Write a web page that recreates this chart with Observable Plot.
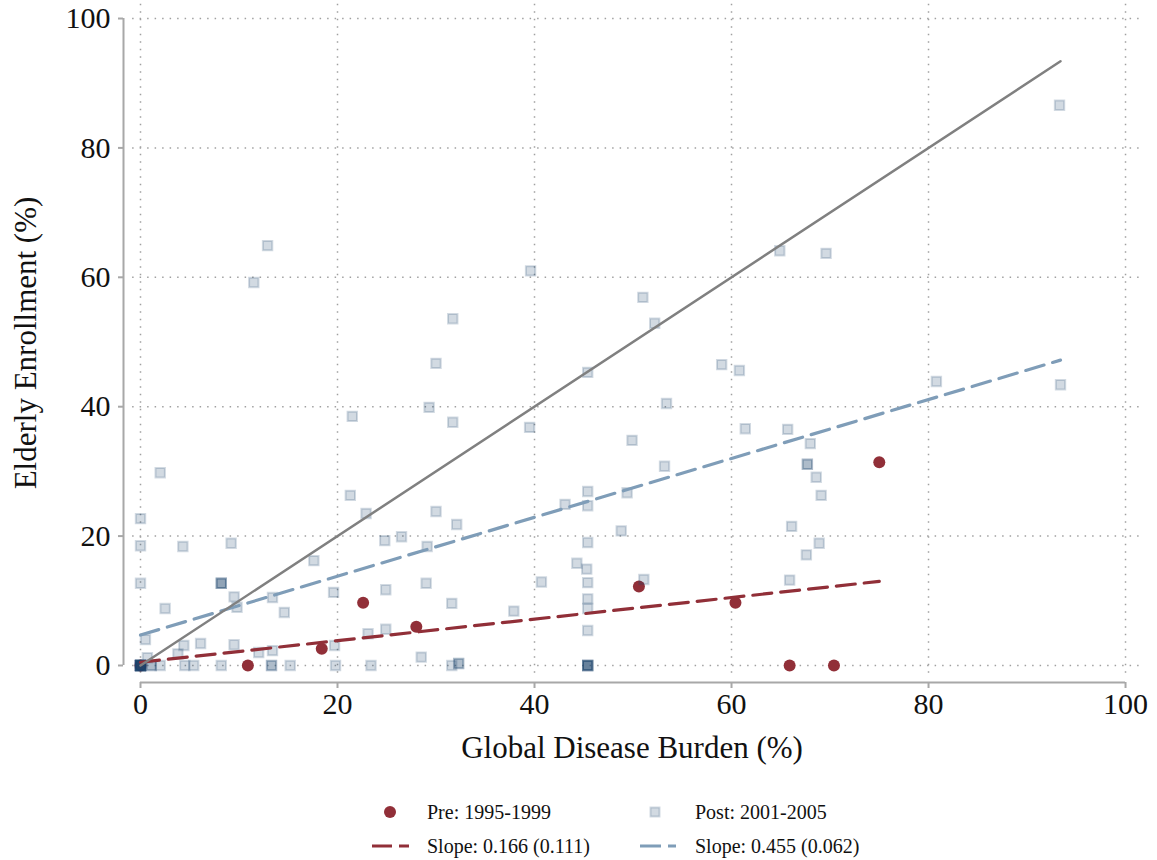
<!DOCTYPE html>
<html>
<head>
<meta charset="utf-8">
<script src="https://cdn.jsdelivr.net/npm/d3@7"></script>
<script src="https://cdn.jsdelivr.net/npm/@observablehq/plot@0.6"></script>
<style>
  html, body { margin: 0; padding: 0; background: #fff; }
  #wrap { position: relative; width: 1157px; height: 860px; font-family: "Liberation Serif", "Times New Roman", serif; }
  #legend { position: absolute; left: 0; top: 760px; }
</style>
</head>
<body>
<div id="wrap"><div id="chart"></div><div id="legend"></div></div>
<script>
// ---------- data ----------
const xTicks = [0, 20, 40, 60, 80, 100];
const yTicks = [0, 20, 40, 60, 80, 100];

// Pre: 1995-1999 (red circles)
const preX = [0, 10.9, 18.4, 22.6, 28.0, 50.6, 60.4, 65.9, 70.4, 75.0];
const preY = [0, 0, 2.6, 9.7, 6.0, 12.2, 9.7, 0, 0, 31.4];

// Post: 2001-2005 (translucent squares; repeated values overlap)
const postX = [
  0,0,0,0,0,0,0,0,0,0,0,0, 1.1,1.1, 2.0, 4.5, 5.4, 8.2, 13.3,13.3, 15.2, 19.8, 23.4, 31.6, 32.3,32.3,
  45.4,45.4,45.4,45.4,45.4,
  0.7, 0.5, 0, 0, 0, 2.0, 2.5, 3.8, 4.4, 4.3, 6.1, 8.2,8.2,8.2, 9.2, 9.5, 9.8, 9.5, 11.5, 12.9,
  12.0, 13.4, 13.4, 14.6, 17.6, 19.6, 19.7, 21.3, 21.5, 22.9, 23.1, 24.9, 24.9, 24.8, 26.5, 28.5,
  29.0, 29.1, 29.3, 30.0, 30.0, 31.6, 31.7, 31.7, 32.1, 37.9, 39.5, 39.6, 40.7, 43.1, 44.3, 45.3,
  45.4, 45.4, 45.4, 45.4, 45.4, 45.4, 45.4, 45.4, 48.8, 49.4, 49.9, 51.0, 51.1, 52.2, 53.2, 53.4,
  59.0, 60.8, 61.4, 64.9, 65.7, 65.9, 66.1, 67.6, 67.7, 67.7, 68.0, 68.6, 68.9, 69.1, 69.6, 80.8,
  93.3, 93.4
];
const postY = [
  0,0,0,0,0,0,0,0,0,0,0,0, 0,0, 0, 0, 0, 0, 0,0, 0, 0, 0, 0, 0.3,0.3,
  0,0,0,0,0,
  1.2, 4.0, 12.7, 18.5, 22.7, 29.8, 8.8, 1.8, 3.1, 18.4, 3.4, 12.7,12.7,12.7, 18.9, 10.6, 9.0, 3.2, 59.2, 64.9,
  2.0, 2.3, 10.5, 8.2, 16.2, 11.3, 3.1, 26.3, 38.5, 23.5, 4.9, 11.7, 5.6, 19.3, 19.9, 1.3,
  12.7, 18.4, 39.9, 23.8, 46.7, 9.6, 37.6, 53.6, 21.8, 8.4, 36.8, 61.0, 12.9, 24.9, 15.8, 14.9,
  12.8, 10.3, 8.8, 5.4, 19.0, 24.7, 26.9, 45.3, 20.8, 26.7, 34.8, 56.9, 13.3, 52.9, 30.8, 40.5,
  46.5, 45.6, 36.6, 64.1, 36.5, 13.2, 21.5, 17.1, 31.1, 31.1, 34.3, 29.1, 18.9, 26.3, 63.7, 43.9,
  86.6, 43.4
];

// fitted lines (endpoints)
const preFitX = [0, 75.0];
const preFitY = [0.5, 13.0];
const postFitX = [0, 93.4];
const postFitY = [4.7, 47.2];
// 45-degree reference line
const diagX = [0, 93.4];
const diagY = [0, 93.4];

const legendLabels = ["Pre: 1995-1999", "Post: 2001-2005", "Slope: 0.166 (0.111)", "Slope: 0.455 (0.062)"];

// ---------- styles ----------
const RED = "#912f38";
const NAVY = "#1e466e";
const BLUEDASH = "#7f9db8";
const GRAY = "#808080";
const AXIS = "#a8a8a8";
const GRID = "#a0a0a0";
const FONT = "'Liberation Serif', 'Times New Roman', serif";

const pre = preX.map((x, i) => ({x, y: preY[i]}));
const post = postX.map((x, i) => ({x, y: postY[i]}));
const preFit = preFitX.map((x, i) => ({x, y: preFitY[i]}));
const postFit = postFitX.map((x, i) => ({x, y: postFitY[i]}));
const diag = diagX.map((x, i) => ({x, y: diagY[i]}));

const xMin = -1.726, xMax = 101.52;
const yMin = -2.63, yMax = 102.32;

const chart = Plot.plot({
  width: 1157,
  height: 760,
  marginLeft: 123,
  marginRight: 17,
  marginTop: 3,
  marginBottom: 78,
  style: {fontFamily: FONT, background: "#fff", color: "#111", overflow: "visible"},
  x: {domain: [xMin, xMax]},
  y: {domain: [yMin, yMax]},
  marks: [
    // dotted grid
    Plot.ruleY(yTicks, {x1: -0.8, x2: xMax, stroke: GRID, strokeWidth: 1.5, strokeDasharray: "1.5,6"}),
    Plot.ruleX(xTicks, {y1: -1.2, y2: yMax, stroke: GRID, strokeWidth: 1.5, strokeDasharray: "1.5,6"}),
    // axis lines
    Plot.ruleX([xMin], {y1: 0, y2: 100, stroke: AXIS, strokeWidth: 2}),
    Plot.ruleY([yMin], {x1: 0, x2: 100, stroke: AXIS, strokeWidth: 2}),
    Plot.axisY(yTicks, {anchor: "left", tickSize: 5, tickPadding: 8, fontSize: 30, stroke: AXIS, strokeWidth: 2, fill: "#111", label: null}),
    Plot.axisX(xTicks, {anchor: "bottom", tickSize: 6, tickPadding: 4, fontSize: 30, stroke: AXIS, strokeWidth: 2, fill: "#111", label: null}),
    // axis titles
    Plot.text(["Elderly Enrollment (%)"], {frameAnchor: "left", dx: -88, rotate: -90, textAnchor: "middle", lineAnchor: "bottom", fontSize: 31, fill: "#111"}),
    Plot.text(["Global Disease Burden (%)"], {frameAnchor: "bottom", dy: 75, textAnchor: "middle", lineAnchor: "bottom", fontSize: 31, fill: "#111"}),
    // points
    Plot.dot(pre, {x: "x", y: "y", r: 6, fill: RED, stroke: "none"}),
    Plot.dot(post, {x: "x", y: "y", symbol: "square", r: 5.3, fill: NAVY, fillOpacity: 0.2, stroke: NAVY, strokeOpacity: 0.2, strokeWidth: 2}),
    // fit lines
    Plot.line(preFit, {x: "x", y: "y", stroke: RED, strokeWidth: 3.2, strokeDasharray: "19,9"}),
    Plot.line(postFit, {x: "x", y: "y", stroke: BLUEDASH, strokeWidth: 3.2, strokeDasharray: "19,9"}),
    Plot.line(diag, {x: "x", y: "y", stroke: GRAY, strokeWidth: 2.5})
  ]
});
document.getElementById("chart").appendChild(chart);

// ---------- legend ----------
const lg = d3.select("#legend").append("svg")
  .attr("width", 1157).attr("height", 100)
  .style("font-family", FONT);
// row 1
lg.append("circle").attr("cx", 390).attr("cy", 52).attr("r", 6).attr("fill", RED);
lg.append("rect").attr("x", 650.5).attr("y", 47.5).attr("width", 9).attr("height", 9)
  .attr("fill", NAVY).attr("fill-opacity", 0.2).attr("stroke", NAVY).attr("stroke-opacity", 0.2).attr("stroke-width", 2);
// row 2
lg.append("line").attr("x1", 372).attr("x2", 409).attr("y1", 86).attr("y2", 86)
  .attr("stroke", RED).attr("stroke-width", 3.2).attr("stroke-dasharray", "20,7");
lg.append("line").attr("x1", 640).attr("x2", 676).attr("y1", 86).attr("y2", 86)
  .attr("stroke", BLUEDASH).attr("stroke-width", 3.2).attr("stroke-dasharray", "21,7");
const textPos = [[427, 59], [695, 59], [427, 93], [695, 93]];
legendLabels.forEach((t, i) => {
  lg.append("text").attr("x", textPos[i][0]).attr("y", textPos[i][1])
    .attr("font-size", 20).attr("fill", "#111").text(t);
});
</script>
</body>
</html>
